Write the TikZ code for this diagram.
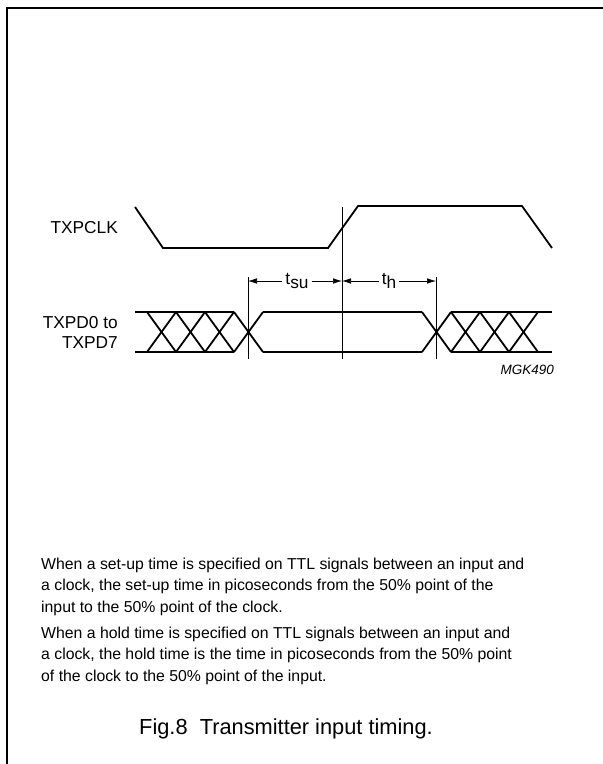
\documentclass[tikz,border=0pt]{standalone}
\usepackage{fontspec}
\setmainfont{Liberation Sans}
\usetikzlibrary{arrows.meta}

\tikzset{
  signal/.style={line width=1.8pt, line join=miter},
  marker/.style={line width=0.6pt},
  dimarrow/.style={line width=0.6pt, -{Latex[length=9pt,width=5.5pt]}},
  sigtext/.style={font=\fontsize{17.3}{20}\selectfont, inner sep=0pt},
  bodytext/.style={font=\fontsize{15.8}{21.5}\selectfont, align=left, inner sep=0pt, anchor=base west}
}

\begin{document}
\begin{tikzpicture}[x=1pt, y=-1pt]
        \useasboundingbox (0,0) rectangle (603,764);
        % frame
        \draw[line width=1.6pt] (7,764) -- (7,8) -- (603,8);

        % signal names
        \node[sigtext, anchor=base east] (clkname) at (118,233) {TXPCLK};
        \node[sigtext, anchor=base east, align=right] (dataname) at (118,348) {TXPD0 to\\TXPD7};

        % clock
        \draw[signal] (135,207) -- (163,248) -- (328,248) -- (358,206) -- (522,206) -- (552,248);

        % data bus
        \draw[signal] (135,312) -- (234,312);
        \draw[signal] (135,352) -- (234,352);
        \foreach \k in {147,176,205,234} {
          \draw[signal] (\k,312) -- (\k+29,352);
          \draw[signal] (\k,352) -- (\k+29,312);
        }
        \draw[signal] (263,312) -- (422,312);
        \draw[signal] (263,352) -- (422,352);
        \foreach \k in {422,451,480,509} {
          \draw[signal] (\k,312) -- (\k+29,352);
          \draw[signal] (\k,352) -- (\k+29,312);
        }
        \draw[signal] (451,312) -- (552,312);
        \draw[signal] (451,352) -- (552,352);

        % timing markers
        \coordinate (sutop) at (248,277);
        \coordinate (subot) at (248,359);
        \coordinate (clktop) at (342,207);
        \coordinate (clkbot) at (342,359);
        \coordinate (htop) at (436,277);
        \coordinate (hbot) at (436,359);
        \coordinate (suend) at (248,281);
        \coordinate (clkmid) at (342,281);
        \coordinate (hend) at (436,281);
        \draw[marker] (sutop) -- (subot);
        \draw[marker] (clktop) -- (clkbot);
        \draw[marker] (htop) -- (hbot);

        \node[sigtext, inner xsep=3pt] (tsu) at (297,281) {t\raisebox{-4.5pt}{su}};
        \node[sigtext, inner xsep=3pt] (th) at (389,281) {t\raisebox{-4.5pt}{h}};
        \draw[dimarrow] (tsu.west |- suend) -- (suend);
        \draw[dimarrow] (tsu.east |- clkmid) -- (clkmid);
        \draw[dimarrow] (th.west |- clkmid) -- (clkmid);
        \draw[dimarrow] (th.east |- hend) -- (hend);

        \node[font=\fontsize{13.5}{15}\selectfont\itshape, anchor=base east, inner sep=0pt] (code) at (554,374) {MGK490};

        % notes
        \node[bodytext] (setup) at (41,612) {When a set-up time is specified on TTL signals between an input and\\a clock, the set-up time in picoseconds from the 50\% point of the\\input to the 50\% point of the clock.};
        \node[bodytext] (hold) at (41,681) {When a hold time is specified on TTL signals between an input and\\a clock, the hold time is the time in picoseconds from the 50\% point\\of the clock to the 50\% point of the input.};

        \node[font=\fontsize{21.8}{24}\selectfont, anchor=base, inner sep=0pt] (caption) at (286,734) {Fig.8\ \ Transmitter input timing.};
      \end{tikzpicture}
\end{document}
